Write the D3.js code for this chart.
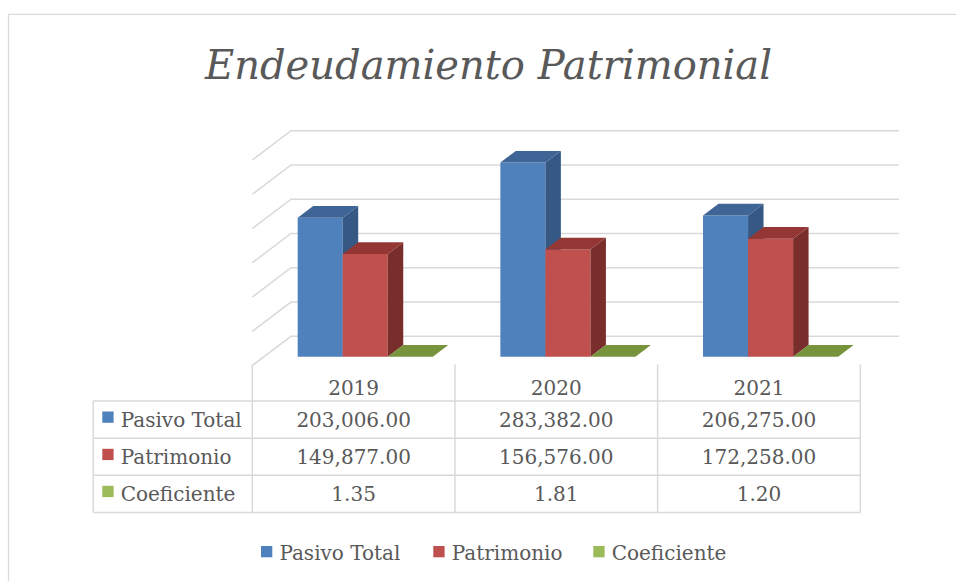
<!DOCTYPE html>
<html>
<head>
<meta charset="utf-8">
<script src="https://cdn.jsdelivr.net/npm/d3@7"></script>
<style>
  body { margin: 0; background: #fff; }
  text { font-family: "DejaVu Serif", serif; fill: #595959; }
</style>
</head>
<body>
<div id="chart"></div>
<script>
// data
const years = ["2019", "2020", "2021"];
const series = ["Pasivo Total", "Patrimonio", "Coeficiente"];
const pasivoTotal = [203006.00, 283382.00, 206275.00];
const patrimonio = [149877.00, 156576.00, 172258.00];
const coeficiente = [1.35, 1.81, 1.20];
const gridTicks = [0, 50000, 100000, 150000, 200000, 250000, 300000];

const values = [pasivoTotal, patrimonio, coeficiente];
const fmtMoney = d3.format(",.2f");
const fmtCoef = d3.format(".2f");
const tableText = [pasivoTotal.map(fmtMoney), patrimonio.map(fmtMoney), coeficiente.map(fmtCoef)];

const colors = {
  front: ["#4F81BD", "#C0504D", "#9BBB59"],
  top: ["#3E6596", "#943734", "#77933C"],
  side: ["#355885", "#7A2E2C", "#637B31"]
};

const width = 956, height = 581;
// oblique depth: full depth of the plot box (back wall -> front edge)
const depthX = -38.7, depthY = 29.3;
const barZ0 = 0.3, barZ1 = 0.7;

const svg = d3.select("#chart").append("svg")
  .attr("width", width)
  .attr("height", height);

// chart frame (cut at the right/bottom)
svg.append("path")
  .attr("d", "M8.5," + height + " V14.3 H" + width)
  .attr("fill", "none")
  .attr("stroke", "#D9D9D9")
  .attr("stroke-width", 1.3);

svg.append("text")
  .attr("x", 488.5)
  .attr("y", 79)
  .attr("text-anchor", "middle")
  .attr("font-size", 41)
  .attr("font-style", "italic")
  .attr("textLength", 567)
  .attr("lengthAdjust", "spacingAndGlyphs")
  .text("Endeudamiento Patrimonial");

// scales in the back-wall plane
const x0 = d3.scaleBand().domain(years).range([291, 899]);
const x1 = d3.scaleBand().domain(series).range([0, x0.bandwidth()]).paddingOuter(0.75);
const y = d3.scaleLinear().domain([0, 300000]).range([336.3, 130.7]);

function proj(x, v, z) {
  return [x + z * depthX, y(v) + z * depthY];
}

// gridlines: back wall + left side wall
const grid = svg.append("g")
  .attr("stroke", "#D9D9D9")
  .attr("stroke-width", 1.5)
  .attr("fill", "none");

grid.selectAll("path")
  .data(gridTicks)
  .enter()
  .append("path")
  .attr("d", d => {
    const a = proj(x0.range()[0], d, 1);
    const b = proj(x0.range()[0], d, 0);
    const c = proj(x0.range()[1], d, 0);
    return "M" + a + "L" + b + "L" + c;
  });

// 3D bars
const line = d3.line();
years.forEach((yr, i) => {
  series.forEach((s, j) => {
    const v = values[j][i];
    const xa = x0(yr) + x1(s);
    const xb = xa + x1.bandwidth();
    const g = svg.append("g");
    // front
    g.append("path")
      .attr("d", line([proj(xa, 0, barZ1), proj(xb, 0, barZ1), proj(xb, v, barZ1), proj(xa, v, barZ1)]) + "Z")
      .attr("fill", colors.front[j]);
    // side
    g.append("path")
      .attr("d", line([proj(xb, 0, barZ1), proj(xb, 0, barZ0), proj(xb, v, barZ0), proj(xb, v, barZ1)]) + "Z")
      .attr("fill", colors.side[j]);
    // top
    g.append("path")
      .attr("d", line([proj(xa, v, barZ1), proj(xb, v, barZ1), proj(xb, v, barZ0), proj(xa, v, barZ0)]) + "Z")
      .attr("fill", colors.top[j]);
  });
});

// data table
const colLeft = 93.3;
const colX = years.map(yr => x0(yr) + depthX);
const colW = x0.bandwidth();
const tableRight = colX[colX.length - 1] + colW;
const rowY = [364.5, 401, 438.3, 475.3, 512.5];

const tbl = svg.append("g")
  .attr("stroke", "#D9D9D9")
  .attr("stroke-width", 1.5)
  .attr("fill", "none");

// horizontal lines
rowY.slice(1).forEach(ry => {
  tbl.append("line").attr("x1", colLeft).attr("x2", tableRight).attr("y1", ry).attr("y2", ry);
});
// vertical lines
tbl.append("line").attr("x1", colLeft).attr("x2", colLeft).attr("y1", rowY[1]).attr("y2", rowY[4]);
colX.concat([tableRight]).forEach(cx => {
  tbl.append("line").attr("x1", cx).attr("x2", cx).attr("y1", rowY[0]).attr("y2", rowY[4]);
});

svg.append("g").selectAll("text")
  .data(years)
  .enter()
  .append("text")
  .attr("x", (d, i) => colX[i] + colW / 2)
  .attr("y", 395)
  .attr("text-anchor", "middle")
  .attr("font-size", 20)
  .text(d => d);

series.forEach((s, j) => {
  const base = rowY[j + 1] + 26;
  svg.append("rect")
    .attr("x", 102.3)
    .attr("y", base - 15.5)
    .attr("width", 11.3)
    .attr("height", 11.3)
    .attr("fill", colors.front[j]);
  svg.append("text")
    .attr("x", 120.7)
    .attr("y", base)
    .attr("font-size", 20)
    .text(s);
  svg.append("g").selectAll("text")
    .data(tableText[j])
    .enter()
    .append("text")
    .attr("x", (d, i) => colX[i] + colW / 2)
    .attr("y", base)
    .attr("text-anchor", "middle")
    .attr("font-size", 20)
    .text(d => d);
});

// legend
const legend = svg.append("g");
const legX = [261, 433.3, 593.3];
series.forEach((s, j) => {
  legend.append("rect")
    .attr("x", legX[j])
    .attr("y", 546)
    .attr("width", 11.3)
    .attr("height", 11.3)
    .attr("fill", colors.front[j]);
  legend.append("text")
    .attr("x", legX[j] + 18.4)
    .attr("y", 559.5)
    .attr("font-size", 20)
    .text(s);
});
</script>
</body>
</html>
